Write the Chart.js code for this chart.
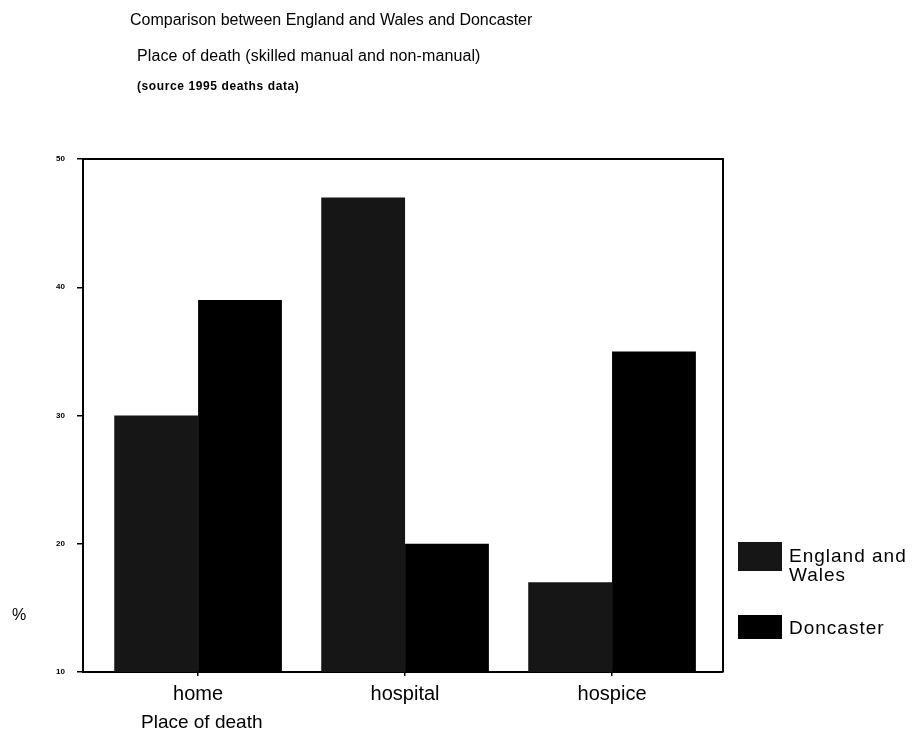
<!DOCTYPE html>
<html>
<head>
<meta charset="utf-8">
<script src="https://cdn.jsdelivr.net/npm/chart.js@4/dist/chart.umd.min.js"></script>
<style>
  html, body { margin: 0; padding: 0; background: #fff; }
  #wrap { position: relative; width: 915px; height: 735px; overflow: hidden; font-family: "Liberation Sans", Arial, sans-serif; color: #000; }
  canvas { position: absolute; left: 0; top: 0; }
  .txt { position: absolute; white-space: nowrap; }
  .t1 { left: 130px; top: 11px; font-size: 16px; }
  .t2 { left: 137px; top: 47px; font-size: 16px; letter-spacing: 0.1px; }
  .t3 { left: 137px; top: 79px; font-size: 12px; font-weight: bold; letter-spacing: 0.6px; }
  .pct { left: 12px; top: 606px; font-size: 16px; }
  .xtitle { left: 141px; top: 711px; font-size: 19px; }
  .lbox { position: absolute; left: 738px; width: 44px; }
  .ltxt { position: absolute; left: 789px; font-size: 19px; line-height: 19px; letter-spacing: 1px; }
</style>
</head>
<body>
<div id="wrap">
  <canvas id="c" width="915" height="735"></canvas>
  <div class="txt t1">Comparison between England and Wales and Doncaster</div>
  <div class="txt t2">Place of death (skilled manual and non-manual)</div>
  <div class="txt t3">(source 1995 deaths data)</div>
  <div class="txt pct">%</div>
  <div class="txt xtitle">Place of death</div>
</div>
<script>
// Place of death, percentage of deaths
const categories = ["home", "hospital", "hospice"];
const seriesNames = ["England and Wales", "Doncaster"];
const englandWales = [30, 47, 17];
const doncaster = [39, 20, 35];
const yTicks = [10, 20, 30, 40, 50];

const seriesColors = ["#161616", "#000000"];

// legend on the right
const legendRows = [
  { top: 542, height: 29, textTop: 546, html: "England and<br>Wales" },
  { top: 615, height: 24, textTop: 618, html: seriesNames[1] }
];
const wrap = document.getElementById("wrap");
legendRows.forEach((row, i) => {
  const box = document.createElement("div");
  box.className = "lbox";
  box.style.top = row.top + "px";
  box.style.height = row.height + "px";
  box.style.background = seriesColors[i];
  wrap.appendChild(box);
  const t = document.createElement("div");
  t.className = "ltxt";
  t.style.top = row.textTop + "px";
  t.innerHTML = row.html;
  wrap.appendChild(t);
});

const toPoints = arr => arr.map((v, i) => ({ x: i, y: v }));

// top and right edges of the plot frame
const frame = {
  id: "frame",
  afterDraw(chart) {
    const { ctx, chartArea: a } = chart;
    ctx.save();
    ctx.strokeStyle = "#000";
    ctx.lineWidth = 2;
    ctx.beginPath();
    ctx.moveTo(a.left, a.top);
    ctx.lineTo(a.right, a.top);
    ctx.lineTo(a.right, a.bottom);
    ctx.stroke();
    ctx.restore();
  }
};

new Chart(document.getElementById("c"), {
  type: "bar",
  data: {
    datasets: [
      { label: seriesNames[0], data: toPoints(englandWales), backgroundColor: seriesColors[0], borderWidth: 0 },
      { label: seriesNames[1], data: toPoints(doncaster), backgroundColor: seriesColors[1], borderWidth: 0 }
    ]
  },
  options: {
    responsive: false,
    animation: false,
    layout: { padding: { left: 0, right: 192, top: 159, bottom: 0 } },
    plugins: { legend: { display: false }, tooltip: { enabled: false } },
    datasets: { bar: { categoryPercentage: 0.81, barPercentage: 1.0 } },
    scales: {
      x: {
        type: "linear",
        min: -0.556,
        max: 2.536,
        offset: false,
        afterFit(s) { s.height = 63; },
        afterBuildTicks(s) { s.ticks = categories.map((_, i) => ({ value: i })); },
        grid: { offset: false, drawOnChartArea: false, drawTicks: true, tickLength: 4, color: "#000", lineWidth: 1.5 },
        border: { display: true, color: "#000", width: 2 },
        ticks: {
          includeBounds: false,
          padding: 6,
          color: "#000",
          font: { family: "Liberation Sans", size: 20 },
          callback: v => categories[v]
        }
      },
      y: {
        min: 10,
        max: 50,
        afterFit(s) { s.width = 83; },
        afterBuildTicks(s) { s.ticks = yTicks.map(v => ({ value: v })); },
        grid: { drawOnChartArea: false, drawTicks: true, tickLength: 6, color: "#000", lineWidth: 1.5 },
        border: { display: true, color: "#000", width: 2 },
        ticks: {
          padding: 12,
          color: "#000",
          font: { family: "Liberation Sans", size: 8, weight: "bold" }
        }
      }
    }
  },
  plugins: [frame]
});
</script>
</body>
</html>
